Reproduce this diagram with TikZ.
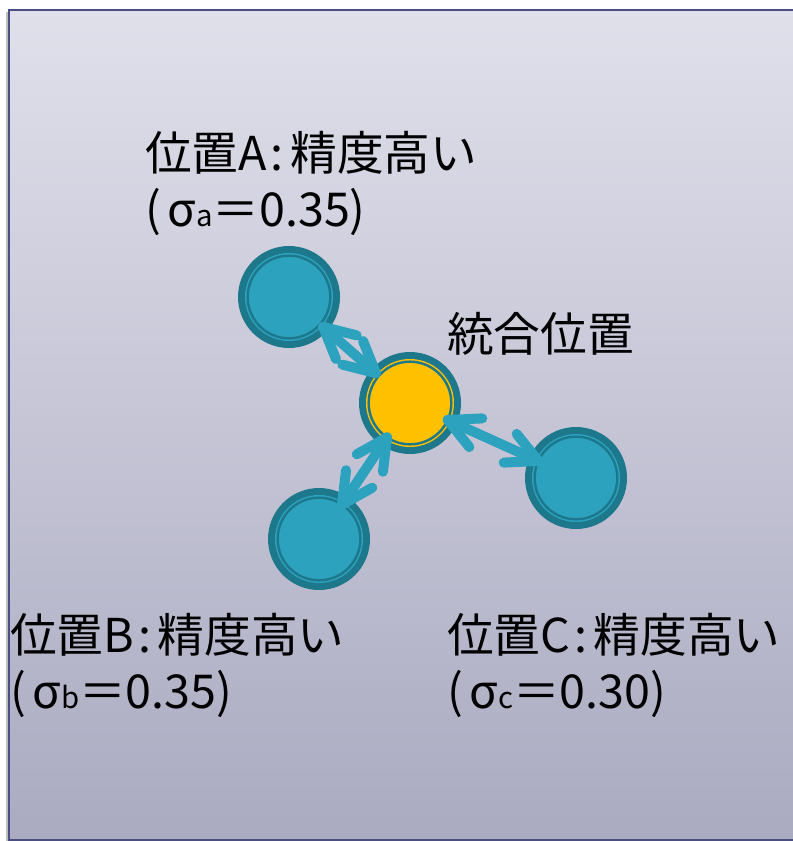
\documentclass[tikz,border=0pt]{standalone}
\usepackage{fontspec}
\setmainfont{Noto Sans CJK JP}
\usetikzlibrary{calc}
\definecolor{bgtop}{HTML}{E0E0EB}
\definecolor{bgbot}{HTML}{AAAAC1}
\definecolor{frame}{HTML}{4A4E80}
\definecolor{tealD}{HTML}{1E788C}
\definecolor{tealL}{HTML}{2CA2BF}
\definecolor{gold}{HTML}{FFC000}
\tikzset{
  x=0.75pt, y=-0.75pt,
  ball/.style={circle, fill=tealD, minimum size=76.5pt, inner sep=0pt},
  lbl/.style={anchor=base west, inner sep=0pt, font=\fontsize{35}{42}\selectfont, align=left},
  conn/.style={draw=tealL, line width=7.5pt, line cap=round, line join=round}
}
\newcommand{\subs}[1]{{\fontsize{22}{22}\selectfont #1}}
\newcommand{\colo}{\hspace{3pt}:\hspace{5pt}}
% double-headed chevron connector between two named nodes; #3 = tip distance from the centres
\newcommand{\biarrow}[3]{%
  \coordinate (#1#2p) at ($(#1)!#3!(#2)$);
  \coordinate (#1#2q) at ($(#2)!#3!(#1)$);
  \draw[conn] (#1#2p) -- (#1#2q);
  \draw[conn] ($(#1#2p)!26pt!27:(#1#2q)$) -- (#1#2p) -- ($(#1#2p)!26pt!-27:(#1#2q)$);
  \draw[conn] ($(#1#2q)!26pt!27:(#1#2p)$) -- (#1#2q) -- ($(#1#2q)!26pt!-27:(#1#2p)$);
}
\begin{document}
\begin{tikzpicture}
\useasboundingbox (0,0) rectangle (792,841);
% frame
\fill[black!25] (6,12) rectangle (12,842);
\shade[top color=bgtop, bottom color=bgbot, draw=frame, line width=1.5pt] (9,10) rectangle (800,840);
% balls
\node[ball] (A) at (289,297) {};
\node[ball] (M) at (410,403) {};
\node[ball] (C) at (576,478) {};
\node[ball] (B) at (319,539) {};
\foreach \n in {A,B,C}{
  \fill[tealL] (\n) circle (33pt);
  \draw[tealD, line width=1.8pt] (\n) circle (31pt);
}
\fill[gold] (M) circle (33pt);
\draw[tealD, line width=1.8pt] (M) circle (31pt);
% connectors
\biarrow{A}{M}{34pt}
\biarrow{M}{C}{31pt}
\biarrow{M}{B}{31pt}
% labels
\node[lbl] (tA) at (145,227) {位置A\colo 精度高い\\(\hspace{5pt}σ\subs{a}＝0.35)};
\node[lbl] (tM) at (447,351) {統合位置};
\node[lbl] (tB) at (10,708) {位置B\colo 精度高い\\(\hspace{5pt}σ\subs{b}＝0.35)};
\node[lbl] (tC) at (447,708) {位置C\colo 精度高い\\(\hspace{5pt}σ\subs{c}＝0.30)};
\end{tikzpicture}
\end{document}
